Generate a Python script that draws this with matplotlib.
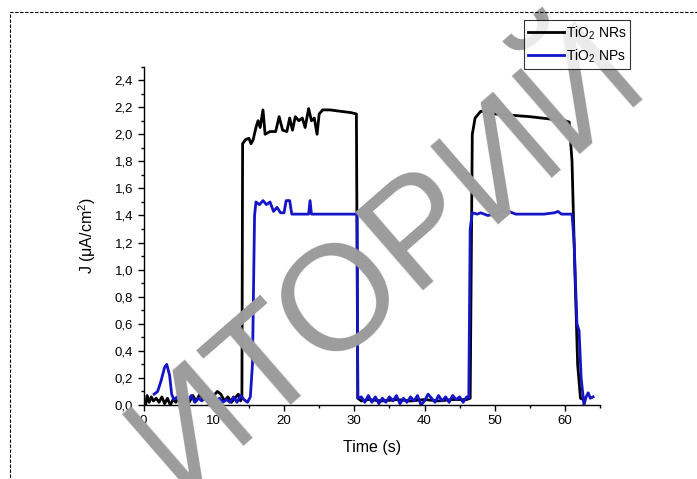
import matplotlib
matplotlib.use("Agg")
import matplotlib.pyplot as plt
from matplotlib.ticker import MultipleLocator, FuncFormatter
from matplotlib.patches import Rectangle

# ---- data ----
t_nr = [0.3, 0.5, 0.8, 1.1, 1.4, 1.8, 2.2, 2.6, 3.0, 3.4, 3.8, 4.2, 4.6, 5.0, 5.5,
        6.0, 6.5, 7.0, 7.5, 8.0, 8.5, 9.0, 9.5, 10.0, 10.5, 11.0, 11.5, 12.0, 12.5,
        13.0, 13.5, 13.8, 14.0, 14.1, 14.5, 15.0, 15.3, 15.6, 16.0, 16.3, 16.6,
        17.0, 17.3, 18.0, 18.8, 19.3, 19.8, 20.4, 20.8, 21.2, 21.6, 22.1, 22.6,
        23.0, 23.5, 23.9, 24.3, 24.7, 25.0, 25.5, 26.5, 28.0, 29.5, 30.3, 30.5,
        31.0, 32.0, 34.0, 36.0, 38.0, 40.0, 42.0, 44.0, 46.0, 46.5, 46.8, 47.2,
        48.0, 50.0, 55.0, 60.0, 60.6, 61.0, 61.4, 61.8, 62.2, 62.6]
j_nr = [0.00, 0.07, 0.02, 0.06, 0.03, 0.05, 0.02, 0.06, 0.01, 0.05, 0.00, 0.04, 0.02, 0.05, 0.03,
        0.06, 0.02, 0.07, 0.03, 0.08, 0.04, 0.06, 0.02, 0.07, 0.10, 0.08, 0.03, 0.06, 0.02,
        0.05, 0.08, 0.03, 0.05, 1.93, 1.96, 1.97, 1.93, 1.96, 2.05, 2.10, 2.05,
        2.18, 2.00, 2.02, 2.02, 2.13, 2.03, 2.02, 2.12, 2.03, 2.13, 2.10, 2.12,
        2.05, 2.19, 2.10, 2.12, 2.00, 2.15, 2.18, 2.18, 2.17, 2.16, 2.15, 0.05,
        0.03, 0.04, 0.03, 0.04, 0.03, 0.04, 0.03, 0.04, 0.04, 0.05, 2.00, 2.12,
        2.17, 2.15, 2.13, 2.10, 2.09, 1.80, 1.00, 0.30, 0.05, 0.04]

t_np = [1.5, 2.0, 2.5, 3.0, 3.3, 3.7, 4.0, 4.3, 4.8, 5.3, 5.8, 6.3, 6.8, 7.3, 7.8,
        8.3, 8.8, 9.3, 9.8, 10.3, 10.8, 11.3, 11.8, 12.3, 12.8, 13.3, 13.8, 14.3,
        14.8, 15.2, 15.5, 15.8, 16.0, 16.5, 17.0, 17.5, 18.0, 18.5, 19.0, 19.5,
        20.0, 20.3, 20.8, 21.1, 23.5, 23.7, 23.9, 30.4, 30.5, 31.0, 31.5, 32.0,
        32.5, 33.0, 33.5, 34.0, 34.5, 35.0, 35.5, 36.0, 36.5, 37.0, 37.5, 38.0,
        38.5, 39.0, 39.5, 40.0, 40.5, 41.0, 41.5, 42.0, 42.5, 43.0, 43.5, 44.0,
        44.5, 45.0, 45.5, 46.0, 46.3, 46.5, 46.8, 47.5, 48.0, 49.0, 50.0, 51.0,
        52.0, 53.0, 55.0, 57.0, 58.5, 59.0, 59.5, 61.0, 61.3, 61.7, 62.0, 62.3,
        62.7, 63.0, 63.3, 63.6, 64.0]
j_np = [0.08, 0.10, 0.18, 0.28, 0.30, 0.22, 0.08, 0.04, 0.06, 0.02, 0.06, 0.03, 0.07, 0.02, 0.05,
        0.03, 0.06, 0.01, 0.04, 0.02, 0.05, 0.02, 0.04, 0.02, 0.06, 0.02, 0.07, 0.04,
        0.02, 0.06, 0.30, 1.40, 1.50, 1.48, 1.51, 1.48, 1.50, 1.43, 1.46, 1.42,
        1.42, 1.51, 1.51, 1.41, 1.41, 1.51, 1.41, 1.41, 0.05, 0.06, 0.02, 0.07,
        0.02, 0.06, 0.01, 0.05, 0.02, 0.06, 0.03, 0.07, 0.01, 0.05, 0.02, 0.06,
        0.03, 0.07, 0.00, 0.03, 0.08, 0.05, 0.02, 0.07, 0.03, 0.06, 0.02, 0.07,
        0.04, 0.06, 0.02, 0.06, 0.05, 1.30, 1.42, 1.41, 1.42, 1.40, 1.41, 1.43,
        1.43, 1.41, 1.41, 1.41, 1.42, 1.43, 1.41, 1.41, 1.20, 0.60, 0.55, 0.20,
        0.00, 0.06, 0.09, 0.05, 0.06]

x_ticks = [0, 10, 20, 30, 40, 50, 60]
y_ticks = [0.0, 0.2, 0.4, 0.6, 0.8, 1.0, 1.2, 1.4, 1.6, 1.8, 2.0, 2.2, 2.4]
labels = ["TiO$_2$ NRs", "TiO$_2$ NPs"]
watermark = "ИТОРИЙ"

plt.rcParams['font.family'] = ['Liberation Sans', 'DejaVu Sans']
plt.rcParams['mathtext.fontset'] = 'custom'
plt.rcParams['mathtext.rm'] = 'Liberation Sans'

fig = plt.figure(figsize=(6.97, 4.79), dpi=100)
ax = fig.add_axes([0.206, 0.1545, 0.655, 0.7065])
ax.set_facecolor('none')

# dashed page border
fig.patches.append(Rectangle((10 / 697, -0.1), 1.2, (479 - 12) / 479 + 0.1,
                             transform=fig.transFigure, fill=False,
                             ls=(0, (3, 1.5)), lw=0.8, ec='black'))

# watermark
fig.text(388 / 697, 1 - 258 / 479, watermark, rotation=41, color='#9c9c9c',
         fontsize=108, ha='center', va='center', rotation_mode='anchor', zorder=0,
         family=['Liberation Sans'])

ax.plot(t_nr, j_nr, color='black', lw=2.0, label=labels[0])
ax.plot(t_np, j_np, color='#1414c8', lw=2.0, label=labels[1])

ax.set_xlim(0, 65)
ax.set_ylim(0, 2.5)
ax.set_xticks(x_ticks)
ax.set_yticks(y_ticks)
ax.xaxis.set_minor_locator(MultipleLocator(5))
ax.yaxis.set_minor_locator(MultipleLocator(0.1))
ax.yaxis.set_major_formatter(FuncFormatter(lambda v, p: f"{v:.1f}".replace('.', ',')))
ax.tick_params(which='major', direction='out', length=4, width=1, labelsize=9.5)
ax.tick_params(which='minor', direction='out', length=2.5, width=1)
for s in ['top', 'right']:
    ax.spines[s].set_visible(False)
for s in ['left', 'bottom']:
    ax.spines[s].set_linewidth(1.0)

ax.set_xlabel("Time (s)", fontsize=11.5, labelpad=9)
ax.set_ylabel("J (μA/cm$^2$)", fontsize=11.5, labelpad=12)

leg = fig.legend(loc='upper left', bbox_to_anchor=(524 / 697, 1 - 20 / 479),
                 frameon=True, fancybox=False, edgecolor='black',
                 fontsize=10, handlelength=2.6, handletextpad=0.1,
                 borderpad=0.3, labelspacing=0.4, borderaxespad=0)
leg.get_frame().set_linewidth(0.8)

fig.savefig("out.png", dpi=100)
